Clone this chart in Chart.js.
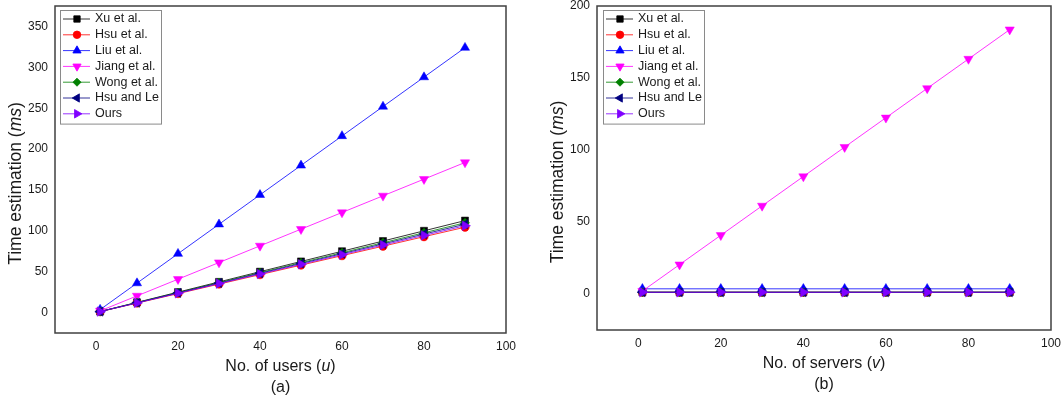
<!DOCTYPE html>
<html>
<head>
<meta charset="utf-8">
<script src="https://cdn.jsdelivr.net/npm/chart.js@4.4.0/dist/chart.umd.min.js"></script>
<style>
  body { margin: 0; background: #fff; }
  .panel { position: absolute; top: 0; height: 400px; }
</style>
</head>
<body>
<div class="panel" style="left:0;width:540px"><canvas id="chartA" width="540" height="400"></canvas></div>
<div class="panel" style="left:540px;width:522px"><canvas id="chartB" width="522" height="400"></canvas></div>
<script>
// x positions: no. of users (a) / no. of servers (b)
var xValues = [1, 10, 20, 30, 40, 50, 60, 70, 80, 90];
var seriesNames = ["Xu et al.", "Hsu et al.", "Liu et al.", "Jiang et al.", "Wong et al.", "Hsu and Le", "Ours"];

// (a) time estimation (ms) vs users
var xuA    = [1.25, 12.5, 25, 37.5, 50, 62.5, 75, 87.5, 100, 112.5];
var hsuA   = [1.16, 11.6, 23.2, 34.8, 46.4, 58, 69.6, 81.2, 92.8, 104.4];
var liuA   = [3.6, 36, 72, 108, 144, 180, 216, 252, 288, 324];
var jiangA = [2.04, 20.4, 40.8, 61.2, 81.6, 102, 122.4, 142.8, 163.2, 183.6];
var wongA  = [1.22, 12.2, 24.4, 36.6, 48.8, 61, 73.2, 85.4, 97.6, 109.8];
var hsuLeA = [1.2, 12, 24, 36, 48, 60, 72, 84, 96, 108];
var oursA  = [1.18, 11.8, 23.6, 35.4, 47.2, 59, 70.8, 82.6, 94.4, 106.2];

// (b) time estimation (ms) vs servers
var xuB    = [1.25, 1.25, 1.25, 1.25, 1.25, 1.25, 1.25, 1.25, 1.25, 1.25];
var hsuB   = [1.16, 1.16, 1.16, 1.16, 1.16, 1.16, 1.16, 1.16, 1.16, 1.16];
var liuB   = [3.6, 3.6, 3.6, 3.6, 3.6, 3.6, 3.6, 3.6, 3.6, 3.6];
var jiangB = [2.04, 20.4, 40.8, 61.2, 81.6, 102, 122.4, 142.8, 163.2, 183.6];
var wongB  = [1.22, 1.22, 1.22, 1.22, 1.22, 1.22, 1.22, 1.22, 1.22, 1.22];
var hsuLeB = [1.2, 1.2, 1.2, 1.2, 1.2, 1.2, 1.2, 1.2, 1.2, 1.2];
var oursB  = [1.18, 1.18, 1.18, 1.18, 1.18, 1.18, 1.18, 1.18, 1.18, 1.18];

var ticksX  = [0, 20, 40, 60, 80, 100];
var ticksYA = [0, 50, 100, 150, 200, 250, 300, 350];
var ticksYB = [0, 50, 100, 150, 200];

// looks
var colors   = ["#000000", "#ff0000", "#0000ff", "#ff00ff", "#008000", "#000080", "#8000ff"];
var markers  = ["rect", "circle", "triangle", "triangle", "rectRot", "triangle", "triangle"];
var rotation = [0, 0, 0, 180, 0, -90, 90];
var radius   = [5, 4.2, 5.3, 5.3, 4.5, 5.3, 5.5];
var textColor = "#1a1a1a";
var fontFamily = "'Liberation Sans', Arial, sans-serif";

function makeDatasets(cols) {
  return seriesNames.map(function (name, i) {
    return {
      label: name,
      data: xValues.map(function (x, j) { return { x: x, y: cols[i][j] }; }),
      borderColor: colors[i],
      backgroundColor: colors[i],
      pointBackgroundColor: colors[i],
      pointBorderColor: colors[i],
      pointStyle: markers[i],
      rotation: rotation[i],
      pointRadius: radius[i],
      pointBorderWidth: 0.5,
      borderWidth: 0.8,
      tension: 0,
      order: seriesNames.length - i   // later series drawn on top
    };
  });
}

// draws text where some parts are italic
function drawParts(ctx, parts, cx, cy, size) {
  var total = 0;
  parts.forEach(function (p) {
    ctx.font = (p.i ? "italic " : "") + size + "px " + fontFamily;
    p.w = ctx.measureText(p.t).width;
    total += p.w;
  });
  var x = cx - total / 2;
  parts.forEach(function (p) {
    ctx.font = (p.i ? "italic " : "") + size + "px " + fontFamily;
    ctx.fillText(p.t, x, cy);
    x += p.w;
  });
}

var extras = {
  id: "extras",
  afterDraw: function (chart, args, opts) {
    var ctx = chart.ctx, a = chart.chartArea;
    ctx.save();
    // frame
    ctx.strokeStyle = "#404040";
    ctx.lineWidth = 1.5;
    ctx.strokeRect(a.left, a.top, a.right - a.left, a.bottom - a.top);

    // legend box
    var bx = a.left + opts.legendOffset, by = a.top + 4;
    var rowH = 15.8, bw = 101, bh = rowH * seriesNames.length + 3;
    ctx.fillStyle = "#fff";
    ctx.fillRect(bx, by, bw, bh);
    ctx.strokeStyle = "#8a8a8a";
    ctx.lineWidth = 1;
    ctx.strokeRect(bx + 0.5, by + 0.5, bw, bh);
    ctx.textBaseline = "middle";
    seriesNames.forEach(function (name, i) {
      var y = by + 9 + i * rowH;
      ctx.strokeStyle = colors[i];
      ctx.lineWidth = 0.8;
      ctx.beginPath();
      ctx.moveTo(bx + 3, y);
      ctx.lineTo(bx + 30, y);
      ctx.stroke();
      ctx.fillStyle = colors[i];
      Chart.helpers.drawPoint(ctx, { pointStyle: markers[i], rotation: rotation[i], radius: radius[i] * 0.9, borderWidth: 0.5 }, bx + 17, y);
      ctx.fillStyle = textColor;
      ctx.font = "12.5px " + fontFamily;
      ctx.textAlign = "left";
      ctx.fillText(name, bx + 35, y);
    });

    // axis titles and panel letter
    ctx.fillStyle = textColor;
    ctx.textAlign = "left";
    ctx.textBaseline = "middle";
    var midX = (a.left + a.right) / 2;
    drawParts(ctx, opts.xTitle, midX, a.bottom + 34, 16);
    drawParts(ctx, [{ t: opts.letter }], midX, a.bottom + 55, 16);
    ctx.translate(a.left - 39, (a.top + a.bottom) / 2 + 14);
    ctx.rotate(-Math.PI / 2);
    drawParts(ctx, [{ t: "Time estimation (" }, { t: "ms", i: true }, { t: ")" }], 0, 0, 17.5);
    ctx.restore();
  }
};

function makeChart(id, cols, yMin, yMax, yTicks, opts) {
  var tickFont = { family: fontFamily, size: 12 };
  return new Chart(document.getElementById(id), {
    type: "line",
    data: { datasets: makeDatasets(cols) },
    options: {
      responsive: false,
      animation: false,
      layout: { padding: { top: 5, right: opts.padRight, left: 0, bottom: 0 } },
      plugins: {
        legend: { display: false },
        tooltip: { enabled: false },
        extras: opts
      },
      scales: {
        x: {
          type: "linear", min: -10, max: 100,
          grid: { display: false, drawTicks: false },
          border: { display: false },
          ticks: { padding: 6, font: tickFont, color: textColor },
          afterBuildTicks: function (s) { s.ticks = ticksX.map(function (v) { return { value: v }; }); },
          afterFit: function (s) { s.height = opts.xHeight; s.paddingLeft = 0; s.paddingRight = 0; }
        },
        y: {
          min: yMin, max: yMax,
          grid: { display: false, drawTicks: false },
          border: { display: false },
          ticks: { padding: 7, font: tickFont, color: textColor },
          afterBuildTicks: function (s) { s.ticks = yTicks.map(function (v) { return { value: v }; }); },
          afterFit: function (s) { s.width = opts.yWidth; s.paddingTop = 0; s.paddingBottom = 0; }
        }
      }
    },
    plugins: [extras]
  });
}

makeChart("chartA", [xuA, hsuA, liuA, jiangA, wongA, hsuLeA, oursA], -25, 375, ticksYA, {
  padRight: 34, xHeight: 67, yWidth: 55, legendOffset: 5, letter: "(a)",
  xTitle: [{ t: "No. of users (" }, { t: "u", i: true }, { t: ")" }]
});
makeChart("chartB", [xuB, hsuB, liuB, jiangB, wongB, hsuLeB, oursB], -25, 200, ticksYB, {
  padRight: 11, xHeight: 70, yWidth: 57, legendOffset: 6, letter: "(b)",
  xTitle: [{ t: "No. of servers (" }, { t: "v", i: true }, { t: ")" }]
});
</script>
</body>
</html>
